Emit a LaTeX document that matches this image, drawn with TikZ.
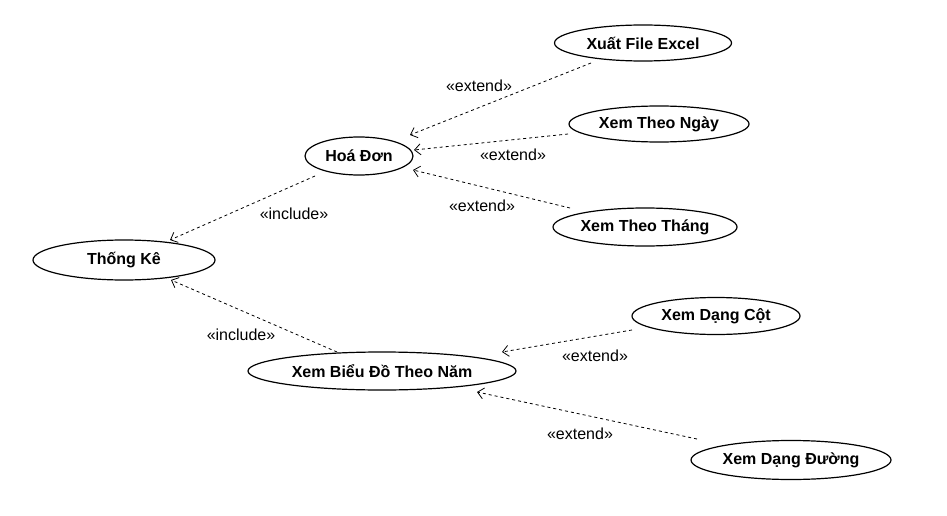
\documentclass[tikz,border=0pt]{standalone}
\usepackage{fontspec}
\setmainfont{Liberation Sans}
\usetikzlibrary{shapes.geometric,arrows.meta}

\tikzset{
	usecase/.style={draw=black,ellipse,line width=1.2pt,inner sep=0pt,font=\fontsize{16}{19}\selectfont\bfseries},
	dep/.style={draw=black,line width=0.8pt,dash pattern=on 3pt off 3pt,-{Straight Barb[length=6pt,width=11pt]}},
	stereo/.style={font=\fontsize{16}{19}\selectfont}
}

\begin{document}
\begin{tikzpicture}[x=1pt,y=-1pt]
	\useasboundingbox (0,0) rectangle (947,516);
\node[usecase,minimum width=182pt,minimum height=40pt] (TK) at (124,260) {Thống Kê};
\node[usecase,minimum width=108pt,minimum height=38pt] (HD) at (359,156) {Hoá Đơn};
\node[usecase,minimum width=177pt,minimum height=36pt] (XF) at (643,43) {Xuất File Excel};
\node[usecase,minimum width=180pt,minimum height=36pt] (XN) at (659,124) {Xem Theo Ngày};
\node[usecase,minimum width=184pt,minimum height=38pt] (XT) at (645,227) {Xem Theo Tháng};
\node[usecase,minimum width=268pt,minimum height=38pt] (BD) at (382,371) {Xem Biểu Đồ Theo Năm};
\node[usecase,minimum width=168pt,minimum height=37pt] (DC) at (716,316) {Xem Dạng Cột};
\node[usecase,minimum width=200pt,minimum height=39pt] (DD) at (791,460) {Xem Dạng Đường};

% extend / include, ends taken off the centres
\draw[dep] ([shift={(-52,20)}]XF.center) -- ([shift={(51,-21)}]HD.center);
\draw[dep] ([shift={(-91,10)}]XN.center) -- ([shift={(55,-6)}]HD.center);
\draw[dep] ([shift={(-75,-19)}]XT.center) -- ([shift={(54,14)}]HD.center);
\draw[dep] ([shift={(-44,20)}]HD.center) -- ([shift={(46,-20)}]TK.center);
\draw[dep] ([shift={(-45,-19)}]BD.center) -- ([shift={(47,20)}]TK.center);
\draw[dep] ([shift={(-84,14)}]DC.center) -- ([shift={(120,-19)}]BD.center);
\draw[dep] ([shift={(-94,-21)}]DD.center) -- ([shift={(95,21)}]BD.center);

\node[stereo] (e1) at (479,86) {«extend»};
\node[stereo] (e2) at (513,155) {«extend»};
\node[stereo] (e3) at (482,206) {«extend»};
\node[stereo] (i1) at (294,214) {«include»};
\node[stereo] (i2) at (241,335) {«include»};
\node[stereo] (e4) at (595,356) {«extend»};
\node[stereo] (e5) at (580,434) {«extend»};

\end{tikzpicture}
\end{document}
